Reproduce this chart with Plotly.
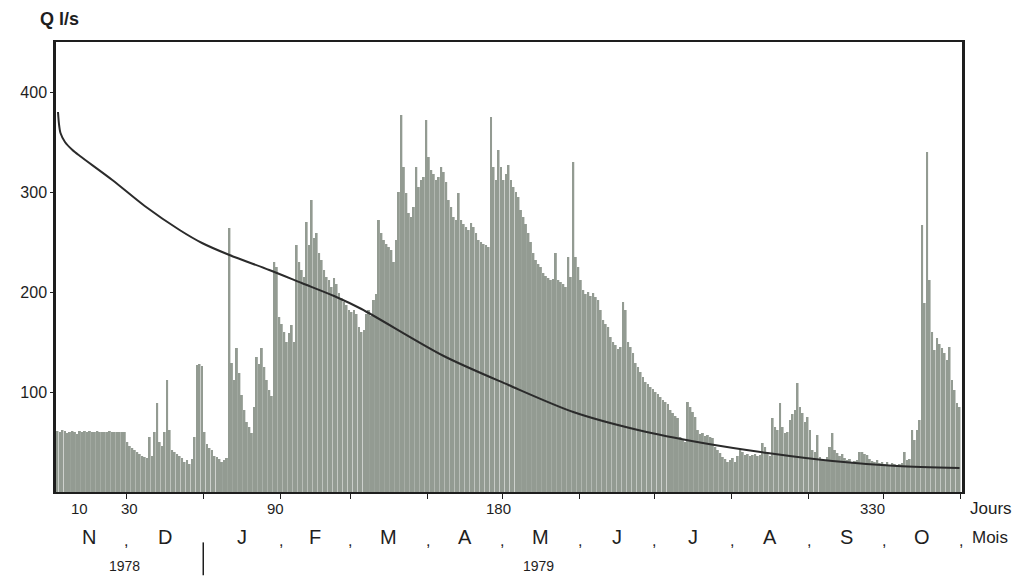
import plotly.graph_objects as go

# Daily discharge Q (l/s), hydrological year Nov 1978 - Oct 1979 (day 1 = 1 Nov)
nov = [61, 60, 62, 61, 59, 60, 61, 60, 58, 61, 60, 61, 60, 61, 60, 60, 61, 60,
       60, 60, 60, 61, 60, 60, 60, 60, 60, 60]  # days 3..30
dec = [50, 46, 44, 42, 40, 38, 36, 35, 34, 55, 36, 60, 89, 50, 46, 60, 112, 62,
       42, 40, 38, 36, 34, 30, 32, 28, 33, 55, 127, 128, 126]
jan = [60, 48, 44, 42, 36, 35, 33, 30, 32, 34, 264, 129, 112, 144, 119, 97, 82,
       70, 65, 59, 85, 135, 128, 144, 125, 112, 102, 96, 230, 225, 175]
feb = [168, 160, 150, 159, 167, 150, 247, 230, 222, 215, 270, 247, 292, 254,
       259, 239, 232, 222, 215, 212, 205, 214, 208, 199, 194, 190, 187, 182]
mar = [180, 182, 178, 165, 160, 162, 178, 182, 176, 192, 198, 272, 259, 252,
       248, 245, 242, 230, 252, 300, 377, 325, 299, 279, 275, 285, 325, 305,
       312, 315, 372]
apr = [335, 322, 318, 312, 315, 325, 320, 310, 292, 285, 275, 272, 299, 272,
       268, 265, 262, 269, 265, 259, 252, 250, 248, 247, 245, 375, 325, 312,
       342, 325]
may = [312, 318, 327, 312, 305, 300, 295, 282, 275, 268, 259, 250, 239, 232,
       228, 225, 219, 216, 214, 212, 213, 239, 212, 210, 208, 205, 235, 215,
       330, 235, 225]
jun = [212, 202, 198, 200, 196, 199, 195, 192, 182, 172, 168, 165, 155, 150,
       147, 143, 145, 190, 182, 150, 145, 139, 129, 125, 120, 115, 110, 108,
       105, 103]
jul = [100, 98, 95, 92, 90, 88, 82, 79, 76, 74, 55, 52, 50, 90, 85, 80, 75, 62,
       58, 59, 56, 57, 55, 54, 45, 42, 39, 35, 33, 30, 32]
aug = [34, 30, 36, 42, 40, 37, 38, 36, 37, 38, 36, 37, 49, 45, 38, 36, 74, 65,
       62, 89, 65, 59, 60, 72, 78, 82, 109, 85, 79, 70, 75]
sep = [62, 42, 40, 57, 35, 33, 32, 35, 45, 59, 42, 39, 36, 38, 34, 32, 33, 30,
       31, 32, 40, 40, 38, 37, 33, 31, 30, 32, 29, 30]
oct_ = [28, 30, 27, 29, 28, 27, 28, 29, 40, 32, 33, 62, 52, 62, 72, 267, 189,
        340, 212, 160, 142, 154, 148, 144, 139, 132, 145, 112, 102, 89, 85]

first_day = 3
q_daily = nov + dec + jan + feb + mar + apr + may + jun + jul + aug + sep + oct_
days = list(range(first_day, first_day + len(q_daily)))

# Smooth curve
curve_day = [3.2, 3.6, 4.2, 6, 9, 12, 25, 38, 52, 61, 72, 88, 101, 114, 125,
             158, 184, 210, 236, 262, 288, 314, 340, 365]
curve_q = [380, 368, 359, 350, 342, 336, 312, 286, 262, 249, 237, 222, 209, 196,
           183, 136, 107, 80, 62, 49, 39, 31, 26, 24]

# Month axis
month_starts = [1, 31, 62, 93, 121, 152, 182, 213, 243, 274, 305, 335, 366]
month_labels = ["N", "D", "J", "F", "M", "A", "M", "J", "J", "A", "S", "O"]
day_ticks = [10, 30, 90, 180, 330]
day_tick_shift = [5, 5, 1, 0, 0]
years = [("1978", 30), ("1979", 196)]

FONT = "Liberation Sans"
INK = "#1e1e1e"
Y_DAYS, Y_MONTHS, Y_YEARS = -0.036, -0.100, -0.164

fig = go.Figure()
fig.add_trace(go.Bar(x=days, y=q_daily, marker=dict(color="#939b92", line=dict(width=0)),
                     showlegend=False))
fig.add_trace(go.Scatter(x=curve_day, y=curve_q, mode="lines",
                         line=dict(color="#2b2b2b", width=2, shape="spline", smoothing=0.8),
                         showlegend=False))


def label(x, y, text, size, xref="x", xanchor="center", xshift=0):
    return dict(x=x, y=y, xref=xref, yref="paper", text=text, showarrow=False,
                xanchor=xanchor, yanchor="middle", xshift=xshift,
                font=dict(family=FONT, size=size, color=INK))


ann = [label(-0.02, 1.05, "<b>Q l/s</b>", 18, xref="paper", xanchor="left")]
for d, s in zip(day_ticks, day_tick_shift):
    ann.append(label(d, Y_DAYS, str(d), 15, xshift=s))
ann.append(label(1.007, Y_DAYS, "Jours", 17, xref="paper", xanchor="left"))
for i, lab in enumerate(month_labels):
    mid = (month_starts[i] + month_starts[i + 1] - 1) / 2
    ann.append(label(mid, Y_MONTHS, lab, 20))
for b in month_starts[1:]:
    if b == 62:
        continue
    ann.append(label(b - 0.5, Y_MONTHS - 0.008, ",", 16))
ann.append(label(1.009, Y_MONTHS, "Mois", 17, xref="paper", xanchor="left"))
for txt, d in years:
    ann.append(label(d, Y_YEARS, txt, 14))

# page body adds an 8px offset; margins compensate so the frame lands at
# x 53..962, y 42..492 in the window
fig.update_layout(
    width=1033, height=579,
    margin=dict(l=45, r=79, t=34, b=95),
    paper_bgcolor="white", plot_bgcolor="white",
    bargap=0.22,
    annotations=ann,
    shapes=[dict(type="line", xref="x", yref="paper", x0=61.5, x1=61.5,
                 y0=-0.112, y1=-0.185, line=dict(color=INK, width=1.5))],
    xaxis=dict(range=[2.4, 366], tickvals=[b - 0.5 for b in month_starts[1:]],
               ticktext=[""] * 12, ticks="outside", ticklen=5, tickcolor=INK,
               showgrid=False, zeroline=False, showline=True, linecolor=INK,
               linewidth=2, mirror=True),
    yaxis=dict(range=[0, 450], tickvals=[100, 200, 300, 400], ticks="outside",
               ticklen=3, tickcolor=INK, showgrid=False, zeroline=False,
               showline=True, linecolor=INK, linewidth=2.5, mirror=True,
               tickfont=dict(family=FONT, size=16, color=INK)),
)

fig.write_html("out.html")
